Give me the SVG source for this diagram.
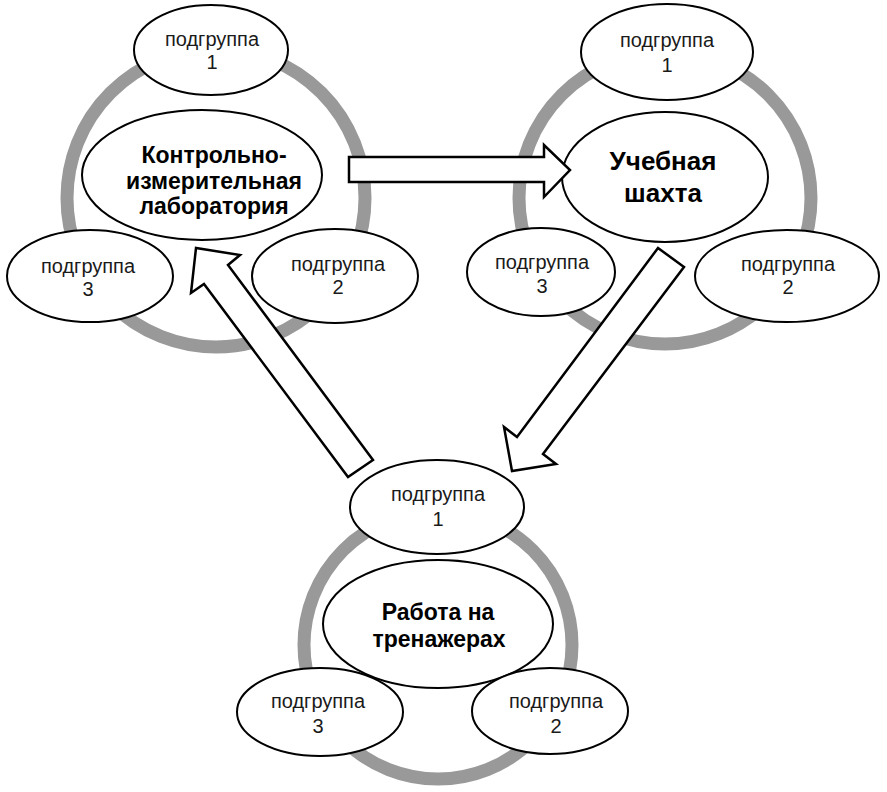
<svg xmlns="http://www.w3.org/2000/svg" width="887" height="792" viewBox="0 0 887 792">
<style>
.ring{fill:none;stroke:#999999;stroke-width:13}
.el{fill:#ffffff;stroke:#000000;stroke-width:2}
.arr{fill:#ffffff;stroke:#000000;stroke-width:2.5;stroke-linejoin:miter}
.sm{font-family:"Liberation Sans",Arial,sans-serif;font-size:20px;fill:#1a1a1a;text-anchor:middle}
.bg{font-family:"Liberation Sans",Arial,sans-serif;font-size:23px;font-weight:bold;fill:#000000;text-anchor:middle}
.bg2{font-family:"Liberation Sans",Arial,sans-serif;font-size:26px;font-weight:bold;fill:#000000;text-anchor:middle}
</style>
<rect width="887" height="792" fill="#ffffff"/>

<g id="cluster-lab">
  <circle class="ring" cx="216" cy="198" r="149"/>
  <g id="lab-main">
    <ellipse class="el" cx="202" cy="175" rx="120" ry="65"/>
    <text class="bg" x="214" y="163">Контрольно-</text>
    <text class="bg" x="214" y="189">измерительная</text>
    <text class="bg" x="214" y="214">лаборатория</text>
  </g>
  <g id="lab-sub1">
    <ellipse class="el" cx="211" cy="50" rx="77" ry="45"/>
    <text class="sm" x="212" y="46">подгруппа</text>
    <text class="sm" x="212" y="69">1</text>
  </g>
  <g id="lab-sub3">
    <ellipse class="el" cx="90" cy="276" rx="83" ry="46"/>
    <text class="sm" x="88" y="273">подгруппа</text>
    <text class="sm" x="88" y="296">3</text>
  </g>
  <g id="lab-sub2">
    <ellipse class="el" cx="335" cy="276" rx="83" ry="47"/>
    <text class="sm" x="338" y="271">подгруппа</text>
    <text class="sm" x="338" y="294">2</text>
  </g>
</g>

<g id="cluster-mine">
  <circle class="ring" cx="665" cy="198" r="146"/>
  <g id="mine-main">
    <ellipse class="el" cx="665" cy="177" rx="103" ry="65"/>
    <text class="bg2" x="663" y="170">Учебная</text>
    <text class="bg2" x="663" y="202">шахта</text>
  </g>
  <g id="mine-sub1">
    <ellipse class="el" cx="667" cy="52" rx="86" ry="48"/>
    <text class="sm" x="667" y="47">подгруппа</text>
    <text class="sm" x="667" y="72">1</text>
  </g>
  <g id="mine-sub3">
    <ellipse class="el" cx="541" cy="272" rx="74" ry="44"/>
    <text class="sm" x="542" y="269">подгруппа</text>
    <text class="sm" x="542" y="293">3</text>
  </g>
  <g id="mine-sub2">
    <ellipse class="el" cx="787" cy="276" rx="92" ry="46"/>
    <text class="sm" x="788" y="271">подгруппа</text>
    <text class="sm" x="788" y="294">2</text>
  </g>
</g>

<g id="cluster-train">
  <circle class="ring" cx="438" cy="645" r="134"/>
  <g id="train-main">
    <ellipse class="el" cx="438" cy="624" rx="115" ry="64"/>
    <text class="bg" x="438" y="620">Работа на</text>
    <text class="bg" x="439" y="647">тренажерах</text>
  </g>
  <g id="train-sub1">
    <ellipse class="el" cx="437" cy="507" rx="87" ry="47"/>
    <text class="sm" x="438" y="501">подгруппа</text>
    <text class="sm" x="438" y="526">1</text>
  </g>
  <g id="train-sub3">
    <ellipse class="el" cx="320" cy="712" rx="83" ry="44"/>
    <text class="sm" x="318" y="708">подгруппа</text>
    <text class="sm" x="318" y="733">3</text>
  </g>
  <g id="train-sub2">
    <ellipse class="el" cx="550" cy="711" rx="78" ry="43"/>
    <text class="sm" x="556" y="708">подгруппа</text>
    <text class="sm" x="556" y="733">2</text>
  </g>
</g>

<g id="connectors">
  <polygon class="arr" points="349,157 544,157 544,145 570,170 544,197 544,182 349,182"/>
  <polygon class="arr" points="658,248 684,267 543,454 556,464 512,471 504,427 517,437"/>
  <polygon class="arr" points="373,460 348,477 204,284 191,293 196,248 240,255 228,265"/>
</g>
</svg>
